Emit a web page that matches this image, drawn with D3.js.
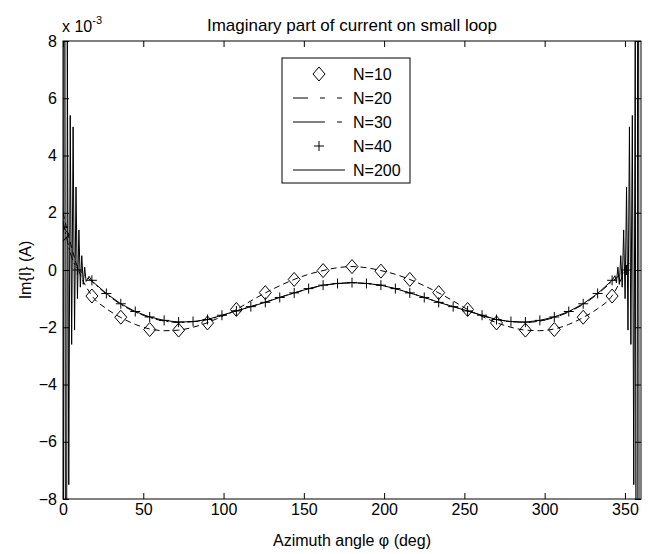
<!DOCTYPE html>
<html>
<head>
<meta charset="utf-8">
<script src="https://cdn.jsdelivr.net/npm/d3@7"></script>
<style>
  body { margin: 0; background: #fff; }
  svg { font-family: "Liberation Sans", Arial, sans-serif; }
  .axis path { display: none; }
  .axis line { stroke: #000; }
  .axis text { font-size: 16px; fill: #000; font-family: "Liberation Sans", Arial, sans-serif; }
</style>
</head>
<body>
<div id="chart"></div>
<script>
var width = 649,
    height = 554;

// axis ticks
var xTicks = [0, 50, 100, 150, 200, 250, 300, 350];
var yTicks = [-8, -6, -4, -2, 0, 2, 4, 6, 8];

// N=10 : diamonds every 18 deg (values in 1e-3 A)
var n10Angle = [0, 18, 36, 54, 72, 90, 108, 126, 144, 162, 180, 198, 216, 234, 252, 270, 288, 306, 324, 342];
var n10Value = [1.25, -0.91, -1.65, -2.08, -2.1, -1.85, -1.38, -0.79, -0.33, -0.02, 0.12, -0.04, -0.33, -0.79, -1.38, -1.85, -2.1, -2.08, -1.65, -0.91];

// N=20 : dashed, every 9 deg
var n20Angle = [0, 9, 18, 27, 36, 45, 54, 63, 72, 81, 90, 99, 108, 117, 126, 135, 144, 153, 162, 171, 180,
                189, 198, 207, 216, 225, 234, 243, 252, 261, 270, 279, 288, 297, 306, 315, 324, 333, 342, 351];
var n20Value = [2.0, 0.1, -0.9, -1.35, -1.66, -1.9, -2.06, -2.12, -2.1, -2.0, -1.84, -1.62, -1.38, -1.08, -0.8, -0.55, -0.33, -0.15, -0.02, 0.08, 0.12,
                0.08, -0.02, -0.15, -0.33, -0.55, -0.8, -1.08, -1.38, -1.62, -1.84, -2.0, -2.1, -2.12, -2.06, -1.9, -1.66, -1.35, -0.9, 0.1];

// N=30 : dash-dot
var n30Angle = [0, 6, 12, 18, 27, 36, 54, 72, 90, 108, 126, 144, 162, 180, 198, 216, 234, 252, 270, 288, 306, 324, 333, 342, 348, 354];
var n30Value = [1.7, 0.35, -0.1, -0.4, -0.84, -1.2, -1.66, -1.83, -1.73, -1.43, -1.12, -0.8, -0.54, -0.45, -0.54, -0.8, -1.12, -1.43, -1.73, -1.83, -1.66, -1.2, -0.84, -0.4, -0.1, 0.35];

// N=40 : plus markers every 9 deg
var n40Angle = n20Angle;
var n40Value = [1.5, 0.0, -0.36, -0.82, -1.18, -1.45, -1.64, -1.76, -1.82, -1.8, -1.73, -1.58, -1.43, -1.28, -1.13, -0.96, -0.8, -0.65, -0.53, -0.47, -0.44,
                -0.47, -0.53, -0.65, -0.8, -0.96, -1.13, -1.28, -1.43, -1.58, -1.73, -1.8, -1.82, -1.76, -1.64, -1.45, -1.18, -0.82, -0.36, 0.0];

// N=200 : solid, strong ringing near the feed (values past +-8 are clipped)
var n200Angle = [0, 0.9, 1.8, 2.7, 3.6, 4.5, 5.4, 6.3, 7.2, 8.1, 9, 9.9, 10.8, 11.7, 12.6, 13.5, 14.4, 16.2,
                 18, 27, 36, 45, 54, 63, 72, 81, 90, 99, 108, 117, 126, 135, 144, 153, 162, 171, 180,
                 189, 198, 207, 216, 225, 234, 243, 252, 261, 270, 279, 288, 297, 306, 315, 324, 333, 342,
                 343.8, 344.7, 345.6, 346.5, 347.4, 348.3, 349.2, 350.1, 351, 351.9, 352.8, 353.7, 354.6, 355.5, 356.4, 357.3, 358.2, 359.1];
var n200Value = [-30, 30, -30, 8.0, -7.5, 5.4, -2.6, 5.0, -2.1, 2.9, -1.0, 1.4, -0.6, 0.5, -0.5, 0.1, -0.4, -0.22,
                 -0.38, -0.82, -1.18, -1.45, -1.64, -1.76, -1.82, -1.8, -1.73, -1.58, -1.43, -1.28, -1.13, -0.96, -0.8, -0.65, -0.53, -0.47, -0.44,
                 -0.47, -0.53, -0.65, -0.8, -0.96, -1.13, -1.28, -1.43, -1.58, -1.73, -1.8, -1.82, -1.76, -1.64, -1.45, -1.18, -0.82, -0.36,
                 -0.2, -0.45, 0.1, -0.5, 0.5, -0.6, 1.4, -1.0, 2.9, -2.1, 5.0, -2.6, 5.4, -7.5, 8.0, -30, 30, -30];

var legendLabels = ["N=10", "N=20", "N=30", "N=40", "N=200"];

function pairs(a, v) {
  return a.map(function(d, i) { return [d, v[i]]; });
}

var svg = d3.select("#chart").append("svg")
  .attr("width", width)
  .attr("height", height);

svg.append("rect").attr("width", width).attr("height", height).attr("fill", "#fff");

var x = d3.scaleLinear().domain([0, 360]).range([63, 641]);
var y = d3.scaleLinear().domain([-8, 8]).range([499, 41]);

svg.append("defs").append("clipPath").attr("id", "clip")
  .append("rect")
  .attr("x", x(0)).attr("y", y(8))
  .attr("width", x(360) - x(0)).attr("height", y(-8) - y(8));

// axes, ticks pointing inward on all four sides
svg.append("g").attr("class", "axis")
  .attr("transform", "translate(0," + y(-8) + ")")
  .call(d3.axisBottom(x).tickValues(xTicks).tickSizeInner(-6).tickSizeOuter(0).tickPadding(5));
svg.append("g").attr("class", "axis")
  .attr("transform", "translate(0," + y(8) + ")")
  .call(d3.axisTop(x).tickValues(xTicks).tickSizeInner(-6).tickSizeOuter(0).tickFormat(""));
svg.append("g").attr("class", "axis")
  .attr("transform", "translate(" + x(0) + ",0)")
  .call(d3.axisLeft(y).tickValues(yTicks).tickSizeInner(-6).tickSizeOuter(0).tickPadding(6));
svg.append("g").attr("class", "axis")
  .attr("transform", "translate(" + x(360) + ",0)")
  .call(d3.axisRight(y).tickValues(yTicks).tickSizeInner(-6).tickSizeOuter(0).tickFormat(""));

svg.append("rect")
  .attr("x", x(0)).attr("y", y(8))
  .attr("width", x(360) - x(0)).attr("height", y(-8) - y(8))
  .attr("fill", "none").attr("stroke", "#000").attr("stroke-width", 1);

var plot = svg.append("g").attr("clip-path", "url(#clip)");

var line = d3.line()
  .x(function(d) { return x(d[0]); })
  .y(function(d) { return y(d[1]); })
  .curve(d3.curveMonotoneX);

// N=200
plot.append("path")
  .datum(pairs(n200Angle, n200Value))
  .attr("d", line.curve(d3.curveLinear))
  .attr("fill", "none").attr("stroke", "#000").attr("stroke-width", 1);
line.curve(d3.curveMonotoneX);

// N=30
plot.append("path")
  .datum(pairs(n30Angle, n30Value))
  .attr("d", line)
  .attr("fill", "none").attr("stroke", "#000").attr("stroke-width", 1)
  .attr("stroke-dasharray", "8,3,2,3");

// N=20
plot.append("path")
  .datum(pairs(n20Angle, n20Value))
  .attr("d", line)
  .attr("fill", "none").attr("stroke", "#000").attr("stroke-width", 1)
  .attr("stroke-dasharray", "6,4");

var diamond = "M0,-7L6,0L0,7L-6,0Z";
var plus = "M-5,0H5M0,-5V5";

// N=10 diamonds
plot.selectAll(".n10")
  .data(pairs(n10Angle, n10Value))
  .enter().append("path")
  .attr("class", "n10")
  .attr("d", diamond)
  .attr("transform", function(d) { return "translate(" + x(d[0]) + "," + y(d[1]) + ")"; })
  .attr("fill", "none").attr("stroke", "#000").attr("stroke-width", 1);

// N=40 plus
plot.selectAll(".n40")
  .data(pairs(n40Angle, n40Value))
  .enter().append("path")
  .attr("class", "n40")
  .attr("d", plus)
  .attr("transform", function(d) { return "translate(" + x(d[0]) + "," + y(d[1]) + ")"; })
  .attr("fill", "none").attr("stroke", "#000").attr("stroke-width", 1);

// titles
svg.append("text")
  .attr("x", (x(0) + x(360)) / 2).attr("y", 31)
  .attr("text-anchor", "middle")
  .attr("font-size", 17)
  .text("Imaginary part of current on small loop");

var expo = svg.append("text")
  .attr("x", 62).attr("y", 32)
  .attr("font-size", 16);
expo.append("tspan").text("x 10");
expo.append("tspan").attr("dy", -8).attr("font-size", 11).text("-3");

svg.append("text")
  .attr("x", (x(0) + x(360)) / 2).attr("y", 546)
  .attr("text-anchor", "middle")
  .attr("font-size", 16)
  .text("Azimuth angle φ (deg)");

svg.append("text")
  .attr("transform", "translate(31," + y(0) + ")rotate(-90)")
  .attr("text-anchor", "middle")
  .attr("font-size", 16)
  .text("Im{I} (A)");

// legend
var legend = svg.append("g").attr("class", "legend");
legend.append("rect")
  .attr("x", 282).attr("y", 58)
  .attr("width", 128).attr("height", 125)
  .attr("fill", "#fff").attr("stroke", "#000").attr("stroke-width", 1);

var rowY = d3.scalePoint().domain(legendLabels).range([74, 170]);
var styles = [
  { marker: diamond, dash: null },
  { marker: null, dash: "15,12,5,12,5" },
  { marker: null, dash: "32,12,5" },
  { marker: plus, dash: null },
  { marker: null, dash: "" }
];

legendLabels.forEach(function(lbl, i) {
  var yy = rowY(lbl);
  var s = styles[i];
  if (s.dash !== null) {
    legend.append("line")
      .attr("x1", 293).attr("x2", 345)
      .attr("y1", yy).attr("y2", yy)
      .attr("stroke", "#000").attr("stroke-width", 1)
      .attr("stroke-dasharray", s.dash || null);
  }
  if (s.marker) {
    legend.append("path")
      .attr("d", s.marker)
      .attr("transform", "translate(319," + yy + ")")
      .attr("fill", "none").attr("stroke", "#000");
  }
  legend.append("text")
    .attr("x", 353).attr("y", yy)
    .attr("dy", "0.36em")
    .attr("font-size", 16)
    .text(lbl);
});
</script>
</body>
</html>
